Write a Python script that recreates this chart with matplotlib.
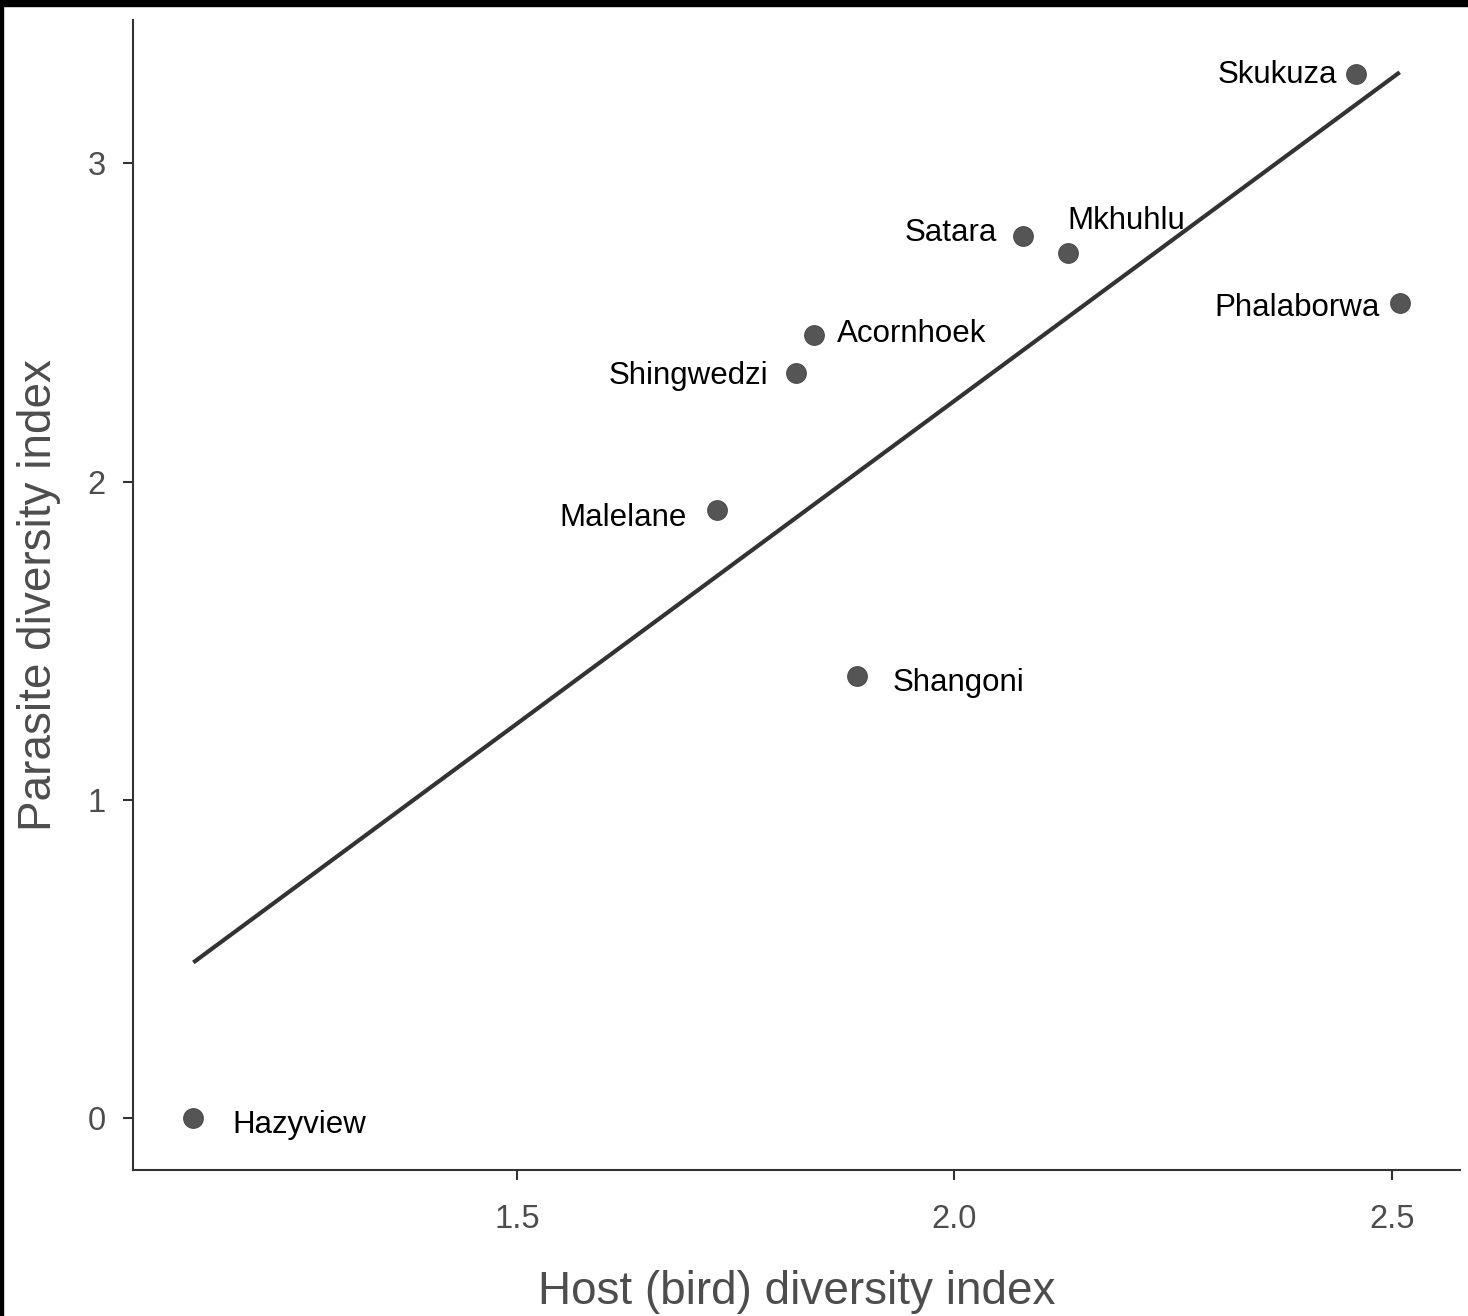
import numpy as np
import matplotlib
matplotlib.use("Agg")
import matplotlib.pyplot as plt
from matplotlib import font_manager
from matplotlib.patches import Rectangle

# data
sites = ["Hazyview", "Malelane", "Shingwedzi", "Acornhoek", "Shangoni",
         "Satara", "Mkhuhlu", "Phalaborwa", "Skukuza"]
host_div = [1.130, 1.729, 1.819, 1.839, 1.889, 2.078, 2.130, 2.509, 2.459]
parasite_div = [0.000, 1.911, 2.341, 2.460, 1.390, 2.771, 2.720, 2.560, 3.282]
x_ticks = [1.5, 2.0, 2.5]
y_ticks = [0, 1, 2, 3]

# label placement relative to each point (pixels, ha)
label_pos = {
    "Hazyview": (39, -15, "left"),
    "Malelane": (-31, -16, "right"),
    "Shingwedzi": (-28, -11, "right"),
    "Acornhoek": (23, -7, "left"),
    "Shangoni": (35, -15, "left"),
    "Satara": (-26, -5, "right"),
    "Mkhuhlu": (-1, 24, "left"),
    "Phalaborwa": (-20, -13, "right"),
    "Skukuza": (-19, -9, "right"),
}

installed = {f.name for f in font_manager.fontManager.ttflist}
label_font = "Liberation Sans Narrow" if "Liberation Sans Narrow" in installed else "Liberation Sans"
plt.rcParams["font.family"] = ["Liberation Sans", "DejaVu Sans"]

DPI = 100
fig = plt.figure(figsize=(14.68, 13.16), dpi=DPI)
ax = fig.add_axes([133 / 1468, 1 - 1170 / 1316, (1460 - 133) / 1468, (1170 - 20) / 1316])

x = np.array(host_div)
y = np.array(parasite_div)

# linear fit
slope, intercept = np.polyfit(x, y, 1)
xf = np.array([x.min(), x.max()])
ax.plot(xf, slope * xf + intercept, color="#333333", lw=3.0, solid_capstyle="butt", zorder=2)

ax.scatter(x, y, s=200, color="#555555", edgecolors="#4a4a4a", linewidths=0.8, zorder=3)

px = 72 / DPI
for name, xi, yi in zip(sites, host_div, parasite_div):
    dx, dy, ha = label_pos[name]
    ax.annotate(name, (xi, yi), xytext=(dx * px, dy * px), textcoords="offset points",
                ha=ha, va="baseline", fontsize=22.5, color="black", family=label_font)

ax.margins(0.05)
ax.set_xticks(x_ticks)
ax.set_xticklabels([f"{t:.1f}" for t in x_ticks])
ax.set_yticks(y_ticks)

for s in ["top", "right"]:
    ax.spines[s].set_visible(False)
for s in ["left", "bottom"]:
    ax.spines[s].set_color("#333333")
    ax.spines[s].set_linewidth(1.5)

ax.tick_params(axis="both", colors="#333333", width=1.5, length=7.5,
               labelsize=23.5, labelcolor="#4d4d4d")
ax.tick_params(axis="x", pad=17)
ax.tick_params(axis="y", pad=12)

ax.set_xlabel("Host (bird) diversity index", fontsize=33, color="#4d4d4d", labelpad=25)
ax.set_ylabel("Parasite diversity index", fontsize=33, color="#4d4d4d", labelpad=19)

# black strips along the top and left edge of the reference
fig.patches.append(Rectangle((0, 1 - 6 / 1316), 1, 6 / 1316, transform=fig.transFigure,
                             color="black", zorder=10))
fig.patches.append(Rectangle((0, 0), 3 / 1468, 1, transform=fig.transFigure,
                             color="black", zorder=10))

fig.savefig("out.png", dpi=DPI)
